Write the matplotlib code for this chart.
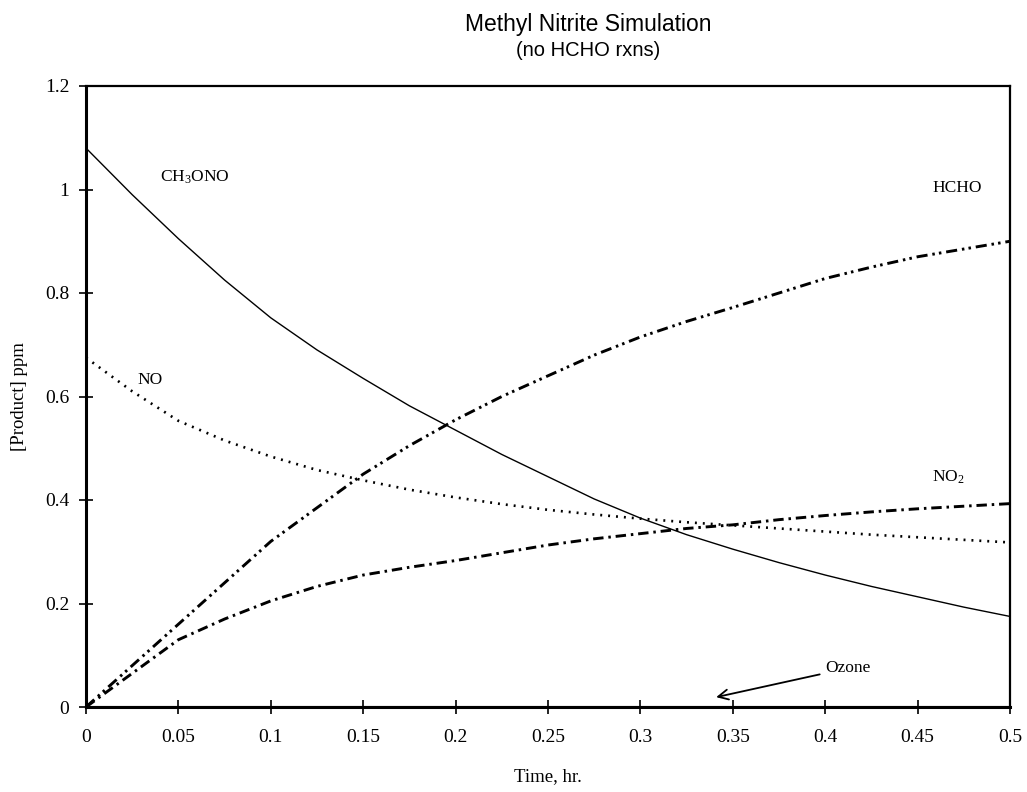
import matplotlib
matplotlib.use("Agg")
import matplotlib.pyplot as plt
import numpy as np

plt.rcParams['lines.scale_dashes'] = False
plt.rcParams['mathtext.fontset'] = 'custom'
plt.rcParams['mathtext.rm'] = 'Liberation Serif'
plt.rcParams['mathtext.it'] = 'Liberation Serif:italic'
plt.rcParams['mathtext.bf'] = 'Liberation Serif:bold'

time_hr = [0.0, 0.025, 0.05, 0.075, 0.1, 0.125, 0.15, 0.175, 0.2, 0.225, 0.25,
           0.275, 0.3, 0.325, 0.35, 0.375, 0.4, 0.425, 0.45, 0.475, 0.5]
ch3ono = [1.08, 0.99, 0.905, 0.825, 0.752, 0.69, 0.635, 0.582, 0.535, 0.488, 0.445,
          0.402, 0.365, 0.333, 0.305, 0.279, 0.255, 0.233, 0.213, 0.193, 0.175]
no = [0.675, 0.61, 0.553, 0.515, 0.484, 0.458, 0.438, 0.42, 0.405, 0.392, 0.381,
      0.372, 0.364, 0.357, 0.351, 0.345, 0.339, 0.333, 0.328, 0.323, 0.318]
hcho = [0.0, 0.08, 0.16, 0.24, 0.32, 0.385, 0.45, 0.505, 0.555, 0.60, 0.64,
        0.68, 0.715, 0.745, 0.772, 0.80, 0.828, 0.85, 0.87, 0.885, 0.90]
no2 = [0.0, 0.065, 0.13, 0.17, 0.205, 0.233, 0.255, 0.27, 0.283, 0.298, 0.313,
       0.325, 0.335, 0.345, 0.352, 0.362, 0.37, 0.377, 0.383, 0.388, 0.393]
ozone = [0.0] * len(time_hr)

x_ticks = [0, 0.05, 0.1, 0.15, 0.2, 0.25, 0.3, 0.35, 0.4, 0.45, 0.5]
x_ticklabels = ["0", "0.05", "0.1", "0.15", "0.2", "0.25", "0.3", "0.35", "0.4", "0.45", "0.5"]
y_ticks = [0, 0.2, 0.4, 0.6, 0.8, 1.0, 1.2]
y_ticklabels = ["0", "0.2", "0.4", "0.6", "0.8", "1", "1.2"]

serif = "Liberation Serif"
sans = "Liberation Sans"

fig = plt.figure(figsize=(10.27, 7.92), dpi=100)
ax = fig.add_axes([86 / 1027, 1 - 707 / 792, (1010 - 86) / 1027, (707 - 86) / 792])

ax.plot(time_hr, ch3ono, color="black", lw=1.0, ls="-")
ax.plot(time_hr, no, color="black", lw=1.9, ls=(0, (1.4, 4.3)))
ax.plot(time_hr, no2, color="black", lw=2.1, ls=(0, (7.5, 3.5, 1.8, 3.5)))
ax.plot(time_hr, hcho, color="black", lw=2.1, ls=(0, (8, 3.5, 1.8, 3, 1.8, 3.5)))
ax.plot(time_hr, ozone, color="black", lw=1.5, ls="-", clip_on=False)

ax.set_xlim(0, 0.5)
ax.set_ylim(0, 1.2)
ax.set_xticks(x_ticks)
ax.set_xticklabels(x_ticklabels, fontfamily=serif, fontsize=14)
ax.set_yticks(y_ticks)
ax.set_yticklabels(y_ticklabels, fontfamily=serif, fontsize=14)
ax.tick_params(axis="both", direction="inout", length=10, width=1.2, color="black")
ax.tick_params(axis="x", pad=11)
ax.tick_params(axis="y", pad=7)

for side in ["top", "right"]:
    ax.spines[side].set_linewidth(1.6)
ax.spines["left"].set_linewidth(2.2)
ax.spines["bottom"].set_linewidth(2.2)

ax.set_xlabel("Time, hr.", fontfamily=serif, fontsize=13.5, labelpad=16)
ax.set_ylabel("[Product] ppm", fontfamily=serif, fontsize=13.5, labelpad=12)

fig.text(588 / 1027, 1 - 25 / 792, "Methyl Nitrite Simulation", family=sans,
         fontsize=16.5, ha="center", va="center")
fig.text(588 / 1027, 1 - 51 / 792, "(no HCHO rxns)", family=sans,
         fontsize=14.5, ha="center", va="center")

lab_kw = dict(family=serif, fontsize=12.5, ha="left", va="center")
ax.text(0.040, 1.024, "CH$_3$ONO", **lab_kw)
ax.text(0.0276, 0.632, "NO", **lab_kw)
ax.text(0.458, 1.003, "HCHO", **lab_kw)
ax.text(0.458, 0.443, "NO$_2$", **lab_kw)

ax.annotate("Ozone", xy=(0.341, 0.019), xytext=(0.400, 0.075),
            fontfamily=serif, fontsize=12.5, ha="left", va="center",
            arrowprops=dict(arrowstyle="->", color="black", lw=1.3,
                            shrinkA=2, shrinkB=0, mutation_scale=18))

fig.savefig("out.png", dpi=100)
